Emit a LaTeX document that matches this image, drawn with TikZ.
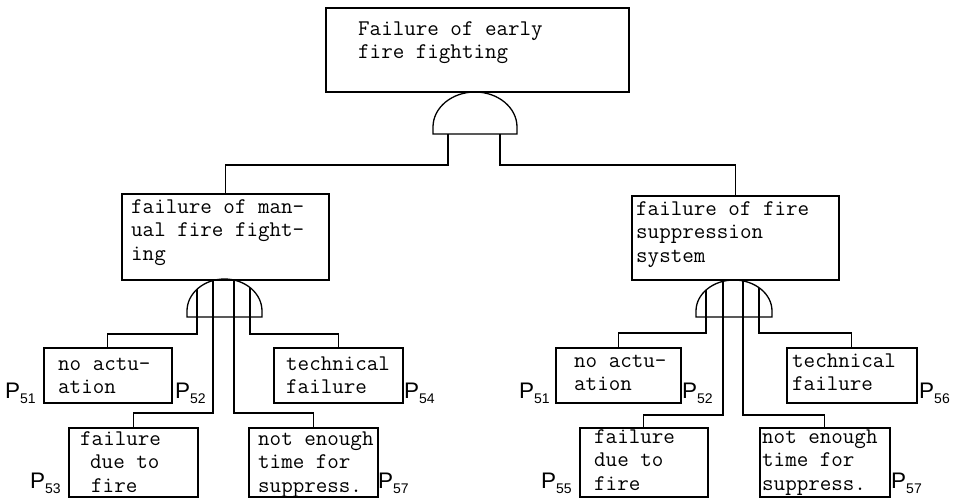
\documentclass[tikz,border=0pt]{standalone}
\usepackage{fontspec}
\newfontfamily\labfont{Liberation Sans}
\usetikzlibrary{calc}

\tikzset{
  treebox/.style={draw, line width=1.5pt, rectangle, inner sep=0pt, anchor=north west},
  boxtext/.style={anchor=north west, inner sep=0pt, align=left,
    font=\ttfamily\fontsize{22.4pt}{23.5pt}\selectfont},
  gateline/.style={line width=1.3pt, line join=miter},
  wire/.style={line width=1.2pt},
  plabel/.style={anchor=base west, inner sep=0pt,
    font=\labfont\fontsize{22.5pt}{24pt}\selectfont},
}
% event box given by its corners (x1,y1) and (x2,y2), y counted downwards
\newcommand\treebox[5]{\node[treebox, minimum width={(#4-#2)*1pt},
  minimum height={(#5-#3)*1pt}] (#1) at (#2,#3) {};}
% box text: name, left x, baseline of first line, lines
\newcommand\boxlines[4]{\node[boxtext] (#1) at (#2,#3-16.45) {\strut #4};}
% probability label P with subscript
\newcommand\pnum[1]{P\raisebox{-5pt}{\fontsize{14pt}{14pt}\selectfont #1}}

\begin{document}
\begin{tikzpicture}[x=1pt,y=-1pt]
\useasboundingbox (0,0) rectangle (956,499);

% ---- top event and its gate
\treebox{top}{325}{7}{628}{91}
\boxlines{topT}{358}{35}{Failure of early\\fire fighting}
\draw[gateline] (433,134) -- (433,127)
  arc[start angle=180, end angle=0, x radius=42pt, y radius=35pt]
  -- (517,134) -- cycle;
\coordinate (tL) at (448,134);
\coordinate (tR) at (500,134);
\coordinate (lvT) at (0,165);

% ---- intermediate events
\treebox{lbox}{121}{193}{328}{279}
\boxlines{lT}{131}{213}{failure of man-\\ual fire fight-\\ing}
\treebox{rbox}{631}{195}{838}{279}
\boxlines{rT}{636}{215}{failure of fire\\suppression\\system}

\draw[wire] (tL) -- (tL |- lvT) -| (lbox.north);
\draw[wire] (tR) -- (tR |- lvT) -| (rbox.north);

% ---- left gate
\draw[gateline] (187,317) -- (187,311)
  arc[start angle=180, end angle=0, x radius=37.5pt, y radius=32pt]
  -- (262,317) -- cycle;
\coordinate (a1) at (197,289);
\coordinate (a2) at (213,280.5);
\coordinate (a3) at (234,280);
\coordinate (a4) at (250,287.5);
\coordinate (lvA) at (0,334);
\coordinate (lvB) at (0,413);

% ---- right gate
\draw[gateline] (696,317) -- (696,311)
  arc[start angle=180, end angle=0, x radius=38pt, y radius=31pt]
  -- (772,317) -- cycle;
\coordinate (b1) at (706,290);
\coordinate (b2) at (723,281.3);
\coordinate (b3) at (743,281);
\coordinate (b4) at (759,287.7);
\coordinate (lvC) at (0,333);
\coordinate (lvD) at (0,415);

% ---- left basic events
\treebox{na1}{43}{347}{171}{402}
\boxlines{na1T}{58}{370}{no actu-\\ation}
\treebox{tf1}{273}{347}{402}{402}
\boxlines{tf1T}{286}{370}{technical\\failure}
\treebox{fd1}{68}{427}{197}{496}
\boxlines{fd1T}{80}{445}{failure\\\hspace*{10pt}due to\\\hspace*{11pt}fire}
\treebox{ne1}{248}{427}{377}{496}
\boxlines{ne1T}{258}{445}{not enough\\time for\\suppress.}

\draw[wire] (a1) -- (a1 |- lvA) -| (na1.north);
\draw[wire] (a4) -- (a4 |- lvA) -| (tf1.north);
\draw[wire] (a2) -- (a2 |- lvB) -| (fd1.north);
\draw[wire] (a3) -- (a3 |- lvB) -| (ne1.north);

\node[plabel] (pl51) at (5,398) {\pnum{51}};
\node[plabel] (pl52) at (175,398) {\pnum{52}};
\node[plabel] (pl54) at (404,398) {\pnum{54}};
\node[plabel] (pl53) at (30,488) {\pnum{53}};
\node[plabel] (pl57) at (378,488) {\pnum{57}};

% ---- right basic events
\treebox{na2}{555}{347}{680}{402}
\boxlines{na2T}{574}{367}{no actu-\\ation}
\treebox{tf2}{786}{347}{916}{402}
\boxlines{tf2T}{792}{367}{technical\\failure}
\treebox{fd2}{579}{427}{707}{496}
\boxlines{fd2T}{594}{443}{failure\\due to\\fire}
\treebox{ne2}{759}{427}{889}{496}
\boxlines{ne2T}{762}{443}{not enough\\time for\\suppress.}

\draw[wire] (b1) -- (b1 |- lvC) -| (na2.north);
\draw[wire] (b4) -- (b4 |- lvC) -| (tf2.north);
\draw[wire] (b2) -- (b2 |- lvD) -| (fd2.north);
\draw[wire] (b3) -- (b3 |- lvD) -| (ne2.north);

\node[plabel] (pr51) at (519,398) {\pnum{51}};
\node[plabel] (pr52) at (682,398) {\pnum{52}};
\node[plabel] (pr56) at (919,398) {\pnum{56}};
\node[plabel] (pr55) at (541,488) {\pnum{55}};
\node[plabel] (pr57) at (891,488) {\pnum{57}};
\end{tikzpicture}
\end{document}
